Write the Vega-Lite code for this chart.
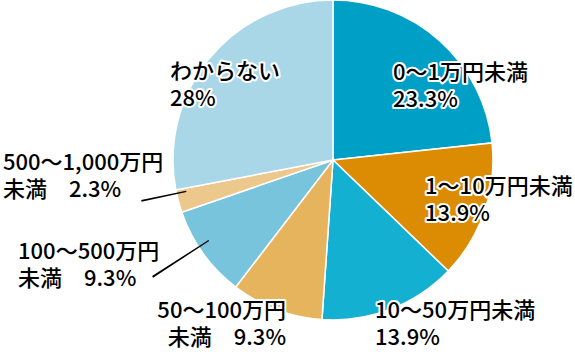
{
  "$schema": "https://vega.github.io/schema/vega-lite/v6.json",
  "width": 484,
  "height": 320,
  "autosize": {"type": "none"},
  "padding": {"left": 91, "top": 0, "right": 0, "bottom": 32},
  "background": "white",
  "config": {"view": {"stroke": null}},
  "data": {"values": [
    {"order": 1, "category": "0～1万円未満", "value": 23.3, "label": "0～1万円未満\n23.3%"},
    {"order": 2, "category": "1～10万円未満", "value": 13.9, "label": "1～10万円未満\n13.9%"},
    {"order": 3, "category": "10～50万円未満", "value": 13.9, "label": "10～50万円未満\n13.9%"},
    {"order": 4, "category": "50～100万円未満", "value": 9.3, "label": "50～100万円\n未満　9.3%"},
    {"order": 5, "category": "100～500万円未満", "value": 9.3, "label": "100～500万円\n未満　9.3%"},
    {"order": 6, "category": "500～1,000万円未満", "value": 2.3, "label": "500～1,000万円\n未満　2.3%"},
    {"order": 7, "category": "わからない", "value": 28, "label": "わからない\n28%"}
  ]},
  "transform": [
    {"stack": "value", "groupby": [], "sort": [{"field": "order", "order": "ascending"}], "as": ["v0", "v1"]},
    {"calculate": "(datum.v0+datum.v1)/2", "as": "mid"}
  ],
  "layer": [
    {
      "mark": {"type": "arc", "stroke": "white", "strokeWidth": 1.5},
      "encoding": {
        "theta": {"field": "v0", "type": "quantitative", "scale": {"domain": [0, 100]}},
        "theta2": {"field": "v1"},
        "color": {"field": "category", "type": "nominal", "legend": null,
          "scale": {
            "domain": ["0～1万円未満", "1～10万円未満", "10～50万円未満", "50～100万円未満", "100～500万円未満", "500～1,000万円未満", "わからない"],
            "range": ["#00a0c6", "#dc8c02", "#14b0d2", "#e6b45c", "#78c4dc", "#ecc88c", "#aad7e8"]
          }}
      }
    },
    {
      "transform": [{"filter": {"field": "order", "equal": 5}}, {"calculate": "datum.mid+0.73", "as": "l0"}, {"calculate": "datum.mid+0.87", "as": "l1"}],
      "mark": {"type": "arc", "innerRadius": 148, "outerRadius": 215, "fill": "black"},
      "encoding": {"theta": {"field": "l0", "type": "quantitative"}, "theta2": {"field": "l1"}}
    },
    {
      "transform": [{"filter": {"field": "order", "equal": 6}}, {"calculate": "datum.mid+0.73", "as": "l0"}, {"calculate": "datum.mid+0.87", "as": "l1"}],
      "mark": {"type": "arc", "innerRadius": 150, "outerRadius": 196, "fill": "black"},
      "encoding": {"theta": {"field": "l0", "type": "quantitative"}, "theta2": {"field": "l1"}}
    },
    {
      "transform": [{"filter": {"field": "order", "equal": 1}}],
      "layer": [
        {"mark": {"type": "text", "radius": 110, "dx": -13.5, "dy": -15, "align": "left", "baseline": "top", "font": "Noto Sans CJK JP", "fontSize": 22, "fontWeight": 500, "lineBreak": "\n", "lineHeight": 27, "fill": "white", "stroke": "white", "strokeWidth": 4, "strokeJoin": "round"},
         "encoding": {"theta": {"field": "mid", "type": "quantitative", "stack": null}, "text": {"field": "label"}}},
        {"mark": {"type": "text", "radius": 110, "dx": -13.5, "dy": -15, "align": "left", "baseline": "top", "font": "Noto Sans CJK JP", "fontSize": 22, "fontWeight": 500, "lineBreak": "\n", "lineHeight": 27, "fill": "black"},
         "encoding": {"theta": {"field": "mid", "type": "quantitative", "stack": null}, "text": {"field": "label"}}}
      ]
    },
    {
      "transform": [{"filter": {"field": "order", "equal": 2}}],
      "layer": [
        {"mark": {"type": "text", "radius": 110, "dx": -12, "dy": -18.6, "align": "left", "baseline": "top", "font": "Noto Sans CJK JP", "fontSize": 22, "fontWeight": 500, "lineBreak": "\n", "lineHeight": 27, "fill": "white", "stroke": "white", "strokeWidth": 4, "strokeJoin": "round"},
         "encoding": {"theta": {"field": "mid", "type": "quantitative", "stack": null}, "text": {"field": "label"}}},
        {"mark": {"type": "text", "radius": 110, "dx": -12, "dy": -18.6, "align": "left", "baseline": "top", "font": "Noto Sans CJK JP", "fontSize": 22, "fontWeight": 500, "lineBreak": "\n", "lineHeight": 27, "fill": "black"},
         "encoding": {"theta": {"field": "mid", "type": "quantitative", "stack": null}, "text": {"field": "label"}}}
      ]
    },
    {
      "transform": [{"filter": {"field": "order", "equal": 3}}],
      "layer": [
        {"mark": {"type": "text", "radius": 160, "dx": -15.5, "dy": -8.3, "align": "left", "baseline": "top", "font": "Noto Sans CJK JP", "fontSize": 22, "fontWeight": 500, "lineBreak": "\n", "lineHeight": 27, "fill": "white", "stroke": "white", "strokeWidth": 4, "strokeJoin": "round"},
         "encoding": {"theta": {"field": "mid", "type": "quantitative", "stack": null}, "text": {"field": "label"}}},
        {"mark": {"type": "text", "radius": 160, "dx": -15.5, "dy": -8.3, "align": "left", "baseline": "top", "font": "Noto Sans CJK JP", "fontSize": 22, "fontWeight": 500, "lineBreak": "\n", "lineHeight": 27, "fill": "black"},
         "encoding": {"theta": {"field": "mid", "type": "quantitative", "stack": null}, "text": {"field": "label"}}}
      ]
    },
    {
      "transform": [{"filter": {"field": "order", "equal": 4}}],
      "layer": [
        {"mark": {"type": "text", "radius": 160, "dx": 9.6, "dy": -8.7, "align": "right", "baseline": "top", "font": "Noto Sans CJK JP", "fontSize": 22, "fontWeight": 500, "lineBreak": "\n", "lineHeight": 27, "fill": "white", "stroke": "white", "strokeWidth": 4, "strokeJoin": "round"},
         "encoding": {"theta": {"field": "mid", "type": "quantitative", "stack": null}, "text": {"field": "label"}}},
        {"mark": {"type": "text", "radius": 160, "dx": 9.6, "dy": -8.7, "align": "right", "baseline": "top", "font": "Noto Sans CJK JP", "fontSize": 22, "fontWeight": 500, "lineBreak": "\n", "lineHeight": 27, "fill": "black"},
         "encoding": {"theta": {"field": "mid", "type": "quantitative", "stack": null}, "text": {"field": "label"}}}
      ]
    },
    {
      "transform": [{"filter": {"field": "order", "equal": 5}}],
      "layer": [
        {"mark": {"type": "text", "radius": 200, "dx": -152.8, "dy": -35, "align": "left", "baseline": "top", "font": "Noto Sans CJK JP", "fontSize": 22, "fontWeight": 500, "lineBreak": "\n", "lineHeight": 27, "fill": "black"},
         "encoding": {"theta": {"field": "mid", "type": "quantitative", "stack": null}, "text": {"field": "label"}}}
      ]
    },
    {
      "transform": [{"filter": {"field": "order", "equal": 6}}],
      "layer": [
        {"mark": {"type": "text", "radius": 200, "dx": -136.8, "dy": -58.6, "align": "left", "baseline": "top", "font": "Noto Sans CJK JP", "fontSize": 22, "fontWeight": 500, "lineBreak": "\n", "lineHeight": 27, "fill": "black"},
         "encoding": {"theta": {"field": "mid", "type": "quantitative", "stack": null}, "text": {"field": "label"}}}
      ]
    },
    {
      "transform": [{"filter": {"field": "order", "equal": 7}}],
      "layer": [
        {"mark": {"type": "text", "radius": 110, "dx": -78.2, "dy": -27.9, "align": "left", "baseline": "top", "font": "Noto Sans CJK JP", "fontSize": 22, "fontWeight": 500, "lineBreak": "\n", "lineHeight": 27, "fill": "white", "stroke": "white", "strokeWidth": 4, "strokeJoin": "round"},
         "encoding": {"theta": {"field": "mid", "type": "quantitative", "stack": null}, "text": {"field": "label"}}},
        {"mark": {"type": "text", "radius": 110, "dx": -78.2, "dy": -27.9, "align": "left", "baseline": "top", "font": "Noto Sans CJK JP", "fontSize": 22, "fontWeight": 500, "lineBreak": "\n", "lineHeight": 27, "fill": "black"},
         "encoding": {"theta": {"field": "mid", "type": "quantitative", "stack": null}, "text": {"field": "label"}}}
      ]
    }
  ]
}
